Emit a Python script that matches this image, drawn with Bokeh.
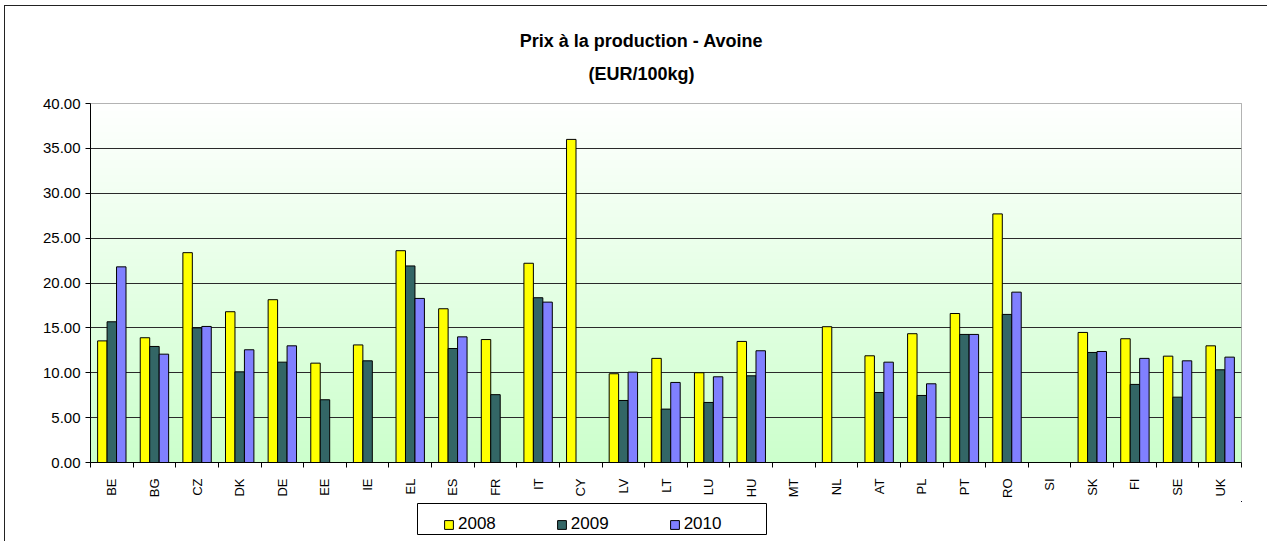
import numpy as np
from bokeh.plotting import figure
from bokeh.layouts import column
from bokeh.models import (Range1d, FixedTicker, NumeralTickFormatter, Label,
                          Legend, LegendItem, BoxAnnotation)
from bokeh.embed import file_html
from bokeh.resources import INLINE

nan = float("nan")

categories = ["BE", "BG", "CZ", "DK", "DE", "EE", "IE", "EL", "ES", "FR", "IT",
              "CY", "LV", "LT", "LU", "HU", "MT", "NL", "AT", "PL", "PT", "RO",
              "SI", "SK", "FI", "SE", "UK"]
v2008 = [13.55, 13.90, 23.38, 16.80, 18.14, 11.07, 13.10, 23.60, 17.13, 13.70, 22.20,
         36.00, 9.89, 11.60, 10.00, 13.49, nan, 15.13, 11.89, 14.35, 16.60, 27.70,
         nan, 14.49, 13.79, 11.85, 13.00]
v2009 = [15.68, 12.93, 15.00, 10.10, 11.18, 6.99, 11.33, 21.90, 12.70, 7.56, 18.36,
         nan, 6.91, 5.95, 6.69, 9.66, nan, nan, 7.80, 7.47, 14.27, 16.50,
         nan, 12.26, 8.70, 7.28, 10.33]
v2010 = [21.80, 12.07, 15.16, 12.56, 13.00, nan, nan, 18.28, 14.00, nan, 17.87,
         nan, 10.07, 8.92, 9.55, 12.45, nan, nan, 11.18, 8.77, 14.27, 18.98,
         nan, 12.37, 11.60, 11.33, 11.74]
years = ["2008", "2009", "2010"]
series = [v2008, v2009, v2010]
colors = ["#FFFF00", "#336666", "#8080FF"]
y_ticks = [0, 5, 10, 15, 20, 25, 30, 35, 40]
title_1 = "Prix à la production - Avoine"
title_2 = "(EUR/100kg)"

FONT = "Liberation Sans"
n = len(categories)
centers = np.arange(n) + 0.5
bw = 0.222
offsets = [-bw, 0.0, bw]

BL, BR, FW = 85, 26, 1151


def blank(height):
    f = figure(frame_width=FW, frame_height=height,
               x_range=Range1d(-3, -2), y_range=Range1d(-3, -2),
               output_backend="svg", toolbar_location=None,
               x_axis_location=None, y_axis_location=None,
               min_border_left=BL, min_border_right=BR, min_border_top=0, min_border_bottom=0)
    f.grid.visible = False
    f.outline_line_color = None
    f.background_fill_color = "white"
    f.border_fill_color = "white"
    return f


# ---- title strip ----
ptitle = blank(87)
ptitle.add_layout(Label(x=551, y=53, x_units="screen", y_units="screen", text=title_1,
                        text_font=FONT, text_font_size="18px", text_font_style="bold",
                        text_color="black", text_align="center", text_baseline="middle"))
ptitle.add_layout(Label(x=551, y=20, x_units="screen", y_units="screen", text=title_2,
                        text_font=FONT, text_font_size="18px", text_font_style="bold",
                        text_color="black", text_align="center", text_baseline="middle"))

# ---- main chart ----
p = figure(frame_width=FW, frame_height=359,
           x_range=Range1d(0, n), y_range=Range1d(0, 40),
           output_backend="svg", toolbar_location=None, title=None,
           min_border_left=BL, min_border_right=BR,
           min_border_top=10, min_border_bottom=36)
p.background_fill_color = "white"
p.border_fill_color = "white"
p.outline_line_color = "#9a9a9a"
p.outline_line_width = 1

# gradient background for the plot area (white at top -> light green at bottom)
N = 256
img = np.empty((N, 1), dtype=np.uint32)
view = img.view(dtype=np.uint8).reshape((N, 1, 4))
t = np.linspace(0, 1, N)  # 0 bottom, 1 top
view[:, 0, 0] = (204 + 51 * t).astype(np.uint8)
view[:, 0, 1] = 255
view[:, 0, 2] = (204 + 51 * t).astype(np.uint8)
view[:, 0, 3] = 255
p.image_rgba(image=[img], x=0, y=0, dw=n, dh=40, level="image")

p.xgrid.visible = False
p.ygrid.ticker = FixedTicker(ticks=y_ticks)
p.ygrid.grid_line_color = "#2a2a2a"
p.ygrid.grid_line_width = 1

for vals, col, off in zip(series, colors, offsets):
    p.vbar(x=centers + off, top=vals, bottom=0, width=bw,
           fill_color=col, line_color="black", line_width=1)

ya = p.yaxis[0]
ya.ticker = FixedTicker(ticks=y_ticks)
ya.formatter = NumeralTickFormatter(format="0.00")
ya.major_label_text_font = FONT
ya.major_label_text_font_size = "15px"
ya.major_label_text_color = "black"
ya.axis_line_color = "black"
ya.major_tick_line_color = "black"
ya.major_tick_out = 5
ya.major_tick_in = 0
ya.minor_tick_line_color = None
ya.major_label_standoff = 5

xa = p.xaxis[0]
xa.ticker = FixedTicker(ticks=list(centers), minor_ticks=list(range(n + 1)))
xa.major_label_overrides = {float(c): lab for c, lab in zip(centers, categories)}
xa.major_label_orientation = np.pi / 2
xa.major_label_text_font = FONT
xa.major_label_text_font_size = "13px"
xa.major_label_text_color = "black"
xa.major_tick_out = 0
xa.major_tick_in = 0
xa.major_tick_line_color = None
xa.minor_tick_out = 5
xa.minor_tick_in = 0
xa.minor_tick_line_color = "black"
xa.axis_line_color = "black"
xa.major_label_standoff = 11

# ---- legend strip (series drawn out of view; only the legend shows) ----
plg = blank(43)
lg_renderers = [plg.vbar(x=centers + off, top=vals, bottom=0, width=bw, fill_color=col,
                         line_color="black", line_width=1)
                for vals, col, off in zip(series, colors, offsets)]
plg.add_layout(BoxAnnotation(left=327, right=676, bottom=10, top=41,
                             left_units="screen", right_units="screen",
                             bottom_units="screen", top_units="screen",
                             fill_color="white", fill_alpha=1,
                             line_color="black", line_width=1, line_alpha=1))
legend = Legend(items=[LegendItem(label=y, renderers=[r]) for y, r in zip(years, lg_renderers)],
                orientation="horizontal", location=(353, 10),
                glyph_width=11, glyph_height=11, label_standoff=4, spacing=60,
                padding=6, margin=0,
                label_text_font=FONT, label_text_font_size="17px",
                label_text_color="black", label_height=17,
                border_line_color=None,
                background_fill_color="white", background_fill_alpha=0)
plg.add_layout(legend)

layout = column(ptitle, p, plg, spacing=0)
layout.styles = {"border-left": "1px solid #222", "border-top": "1px solid #222",
                 "margin-left": "4px", "margin-top": "5px"}

open("out.html", "w").write(file_html(layout, INLINE))
